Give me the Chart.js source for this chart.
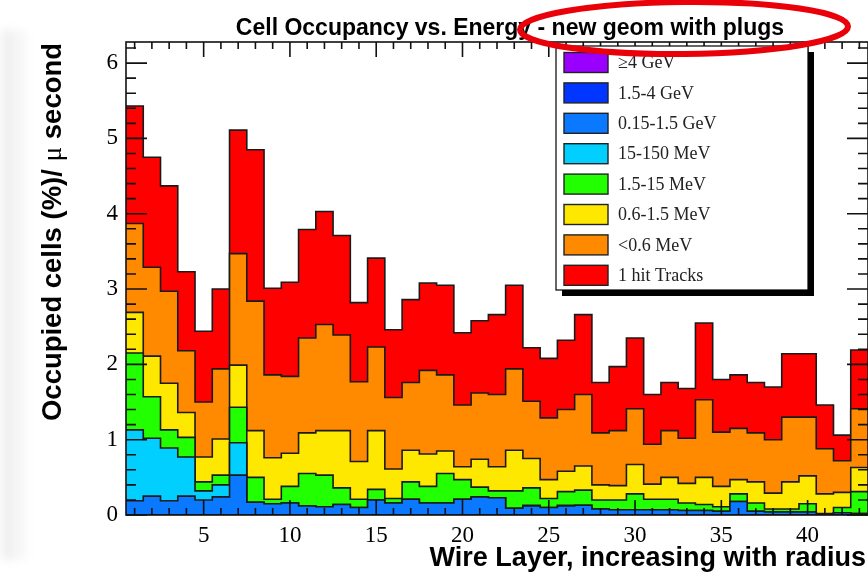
<!DOCTYPE html>
<html>
<head>
<meta charset="utf-8">
<script src="https://cdn.jsdelivr.net/npm/chart.js@4.4.1/dist/chart.umd.min.js"></script>
<style>
  html, body { margin: 0; padding: 0; background: #fff; overflow: hidden; }
  canvas { display: block; }
</style>
</head>
<body>
<canvas id="occupancy" width="868" height="576"></canvas>
<script>
// Wire layers (bins) and the stacked occupancy contribution of each energy class, in % per microsecond.
const wireLayers = [1,2,3,4,5,6,7,8,9,10,11,12,13,14,15,16,17,18,19,20,21,22,23,24,25,26,27,28,29,30,31,32,33,34,35,36,37,38,39,40,41,42,43];

const above4GeV = [0,0,0,0,0,0,0,0,0,0,0,0,0,0,0,0,0,0,0,0,0,0,0,0,0,0,0,0,0,0,0,0,0,0,0,0,0,0,0,0,0,0,0];
const gev1p5to4 = [0,0,0,0,0,0,0,0,0,0,0,0,0,0,0,0,0,0,0,0,0,0,0,0,0,0,0,0,0,0,0,0,0,0,0,0,0,0,0,0,0,0,0];
const gev0p15to1p5 = [0.19,0.25,0.19,0.25,0.20,0.24,0.53,0.17,0.15,0.16,0.12,0.11,0.14,0.10,0.20,0.16,0.21,0.16,0.16,0.21,0.24,0.23,0.09,0.12,0.10,0.12,0.13,0.08,0.07,0.07,0.07,0.07,0.06,0.06,0.05,0.18,0.05,0.04,0.04,0.04,0.01,0.03,0.02];
const mev15to150 = [0.94,0.77,0.70,0.52,0.12,0.16,0.43,0,0,0,0,0,0,0,0,0,0,0,0,0,0,0,0,0.01,0,0.01,0,0,0,0,0,0,0,0,0,0,0,0,0,0,0,0,0];
const mev1p5to15 = [1.02,0.55,0.24,0.26,0.12,0.13,0.47,0.33,0.06,0.22,0.43,0.42,0.22,0.11,0.14,0.06,0.23,0.22,0.39,0.26,0.13,0.09,0.23,0.23,0.12,0.18,0.20,0.12,0.13,0.21,0.14,0.14,0.10,0.08,0.06,0.10,0.11,0.04,0.04,0.11,0.01,0.07,0.29];
const mev0p6to1p5 = [0.54,0.54,0.62,0.33,0.33,0.48,0.56,0.62,0.55,0.44,0.54,0.59,0.76,0.50,0.78,0.39,0.42,0.43,0.30,0.17,0.37,0.32,0.54,0.39,0.25,0.27,0.32,0.20,0.19,0.39,0.20,0.29,0.26,0.36,0.27,0.19,0.28,0.21,0.36,0.37,0.26,0.20,0.32];
const below0p6MeV = [1.18,1.18,1.22,0.82,0.73,0.93,1.48,1.72,1.10,1.02,1.26,1.41,1.27,1.06,1.11,0.95,0.90,1.11,1.01,0.82,0.88,0.96,1.08,0.76,0.82,0.82,0.95,0.69,0.73,0.74,0.53,0.62,0.60,1.03,0.72,0.68,0.65,0.71,0.86,0.78,0.60,0.42,0.78];
const oneHitTracks = [1.56,1.46,1.40,1.05,0.94,1.06,1.64,2.01,1.15,1.25,1.44,1.50,1.32,1.05,1.18,0.90,1.10,1.16,1.19,0.96,0.96,1.06,1.11,0.71,0.79,0.92,1.06,0.67,0.85,0.94,0.66,0.64,0.66,1.02,0.70,0.71,0.67,0.70,0.84,0.84,0.58,0.34,0.78];

const seriesNames = ['\u22654 GeV', '1.5-4 GeV', '0.15-1.5 GeV', '15-150 MeV', '1.5-15 MeV', '0.6-1.5 MeV', '<0.6 MeV', '1 hit Tracks'];
const seriesValues = [above4GeV, gev1p5to4, gev0p15to1p5, mev15to150, mev1p5to15, mev0p6to1p5, below0p6MeV, oneHitTracks];

const xTickValues = [5, 10, 15, 20, 25, 30, 35, 40];
const yTickValues = [0, 1, 2, 3, 4, 5, 6];

const titleText = 'Cell Occupancy vs. Energy - new geom with plugs';
const xTitleText = 'Wire Layer, increasing with radius';

// Fill colours, one per energy class (same order as seriesNames).
const seriesColors = ['#9a00ff', '#0036ff', '#0a78ff', '#00cfff', '#22ff00', '#ffe800', '#ff8a00', '#ff0000'];

// Histogram bins as step points on the bin edges (wire layer +/- 0.5).
function stepPoints(values) {
  const pts = values.map((v, i) => ({ x: wireLayers[i] - 0.5, y: v }));
  pts.push({ x: wireLayers[wireLayers.length - 1] + 0.5, y: values[values.length - 1] });
  return pts;
}

const datasets = seriesValues.map((vals, i) => ({
  label: seriesNames[i],
  data: stepPoints(vals),
  stepped: 'before',
  fill: 'origin',
  backgroundColor: seriesColors[i],
  borderColor: '#1a1a1a',
  borderWidth: 1.6,
  borderJoinStyle: 'miter',
  pointRadius: 0,
  tension: 0
}));

// Faint smudge along the left edge of the page.
const pageBackground = {
  id: 'pageBackground',
  beforeDraw(chart) {
    const { ctx, width, height } = chart;
    ctx.save();
    ctx.fillStyle = '#ffffff';
    ctx.fillRect(0, 0, width, height);
    ctx.filter = 'blur(4px)';
    const g = ctx.createLinearGradient(0, 0, 32, 0);
    g.addColorStop(0, 'rgba(238,238,238,0.5)');
    g.addColorStop(0.25, 'rgba(232,232,232,0.8)');
    g.addColorStop(0.45, 'rgba(244,244,244,0.8)');
    g.addColorStop(0.7, 'rgba(240,240,240,0.6)');
    g.addColorStop(1, 'rgba(255,255,255,0)');
    ctx.fillStyle = g;
    ctx.fillRect(0, 30, 32, 530);
    ctx.restore();
  }
};

// ROOT-style frame with inward tick marks on all four sides.
const frameTicks = {
  id: 'frameTicks',
  afterDatasetsDraw(chart) {
    const { ctx, chartArea: a, scales: { x, y } } = chart;
    ctx.save();
    ctx.strokeStyle = '#111';
    ctx.lineWidth = 1.6;
    ctx.strokeRect(a.left, a.top, a.right - a.left, a.bottom - a.top);
    ctx.beginPath();
    for (let k = 0; k <= 31; k++) {
      const v = k * 0.2;
      if (v > y.max) break;
      const py = y.getPixelForValue(v);
      const len = k % 5 === 0 ? 21 : 10;
      ctx.moveTo(a.left, py); ctx.lineTo(a.left + len, py);
      ctx.moveTo(a.right, py); ctx.lineTo(a.right - len, py);
    }
    for (let v = 1; v <= 43; v++) {
      const px = x.getPixelForValue(v);
      const len = v % 5 === 0 ? 15 : 7;
      ctx.moveTo(px, a.bottom); ctx.lineTo(px, a.bottom - len);
      ctx.moveTo(px, a.top); ctx.lineTo(px, a.top + len);
    }
    ctx.stroke();
    ctx.restore();
  }
};

// Legend box, titles and the highlight ring around the subtitle.
const annotations = {
  id: 'annotations',
  afterDraw(chart) {
    const { ctx } = chart;
    ctx.save();

    // legend with drop shadow
    const lx = 556, ly = 46, lw = 252, lh = 244;
    ctx.fillStyle = '#000';
    ctx.fillRect(lx + 6, ly + 6, lw, lh);
    ctx.fillStyle = '#fff';
    ctx.fillRect(lx, ly, lw, lh);
    ctx.strokeStyle = '#000';
    ctx.lineWidth = 1.2;
    ctx.strokeRect(lx, ly, lw, lh);
    ctx.font = '18px "Liberation Serif", "DejaVu Serif", serif';
    ctx.textBaseline = 'middle';
    ctx.textAlign = 'left';
    seriesNames.forEach((name, k) => {
      const cy = 62.5 + k * 30.4;
      ctx.fillStyle = seriesColors[k];
      ctx.fillRect(564, cy - 10, 44, 20);
      ctx.strokeStyle = '#222';
      ctx.lineWidth = 1.4;
      ctx.strokeRect(564, cy - 10, 44, 20);
      ctx.fillStyle = '#222';
      ctx.fillText(name, 618, cy + 1);
    });

    // main title
    ctx.fillStyle = '#000';
    ctx.font = 'bold 23px "Liberation Sans", Arial, sans-serif';
    ctx.textAlign = 'center';
    ctx.textBaseline = 'alphabetic';
    ctx.fillText(titleText, 510, 35, 572);

    // x-axis title
    ctx.font = 'bold 27px "Liberation Sans", Arial, sans-serif';
    ctx.textAlign = 'right';
    ctx.fillText(xTitleText, 866, 566, 461);

    // y-axis title, with the Greek mu in a plain serif face
    const parts = [
      ['Occupied cells (%)/ ', 'bold 28px "Liberation Sans", Arial, sans-serif'],
      ['\u03bc', '28px "Liberation Serif", "DejaVu Serif", serif'],
      [' second', 'bold 28px "Liberation Sans", Arial, sans-serif']
    ];
    let total = 0;
    const widths = parts.map(([t, f]) => { ctx.font = f; const w = ctx.measureText(t).width; total += w; return w; });
    const targetLen = 378;
    ctx.save();
    ctx.translate(61, 232);
    ctx.rotate(-Math.PI / 2);
    ctx.scale(targetLen / total, 1);
    ctx.textAlign = 'left';
    let cx = -total / 2;
    parts.forEach(([t, f], i) => { ctx.font = f; ctx.fillText(t, cx, 0); cx += widths[i]; });
    ctx.restore();

    // red ring
    ctx.beginPath();
    ctx.ellipse(684, 28, 164, 26, -0.01, 0, Math.PI * 2);
    ctx.strokeStyle = '#ea0008';
    ctx.lineWidth = 6;
    ctx.stroke();

    ctx.restore();
  }
};

new Chart(document.getElementById('occupancy'), {
  type: 'line',
  data: { datasets },
  options: {
    responsive: false,
    animation: false,
    layout: { padding: { top: 42, left: 0, right: 0, bottom: 0 } },
    plugins: { legend: { display: false }, tooltip: { enabled: false }, title: { display: false } },
    scales: {
      x: {
        type: 'linear',
        min: 0.5,
        max: 43.5,
        afterBuildTicks: (s) => { s.ticks = xTickValues.map(v => ({ value: v })); },
        afterFit: (s) => { s.height = 61; },
        grid: { display: false, drawTicks: false },
        border: { display: false },
        ticks: { font: { family: '"Liberation Serif", serif', size: 23 }, color: '#000', padding: 7, maxRotation: 0, autoSkip: false }
      },
      y: {
        type: 'linear',
        stacked: true,
        min: 0,
        max: 6.28,
        afterBuildTicks: (s) => { s.ticks = yTickValues.map(v => ({ value: v })); },
        afterFit: (s) => { s.width = 126; },
        grid: { display: false, drawTicks: false },
        border: { display: false },
        ticks: { font: { family: '"Liberation Serif", serif', size: 23 }, color: '#000', padding: 8 }
      }
    }
  },
  plugins: [pageBackground, frameTicks, annotations]
});
</script>
</body>
</html>
